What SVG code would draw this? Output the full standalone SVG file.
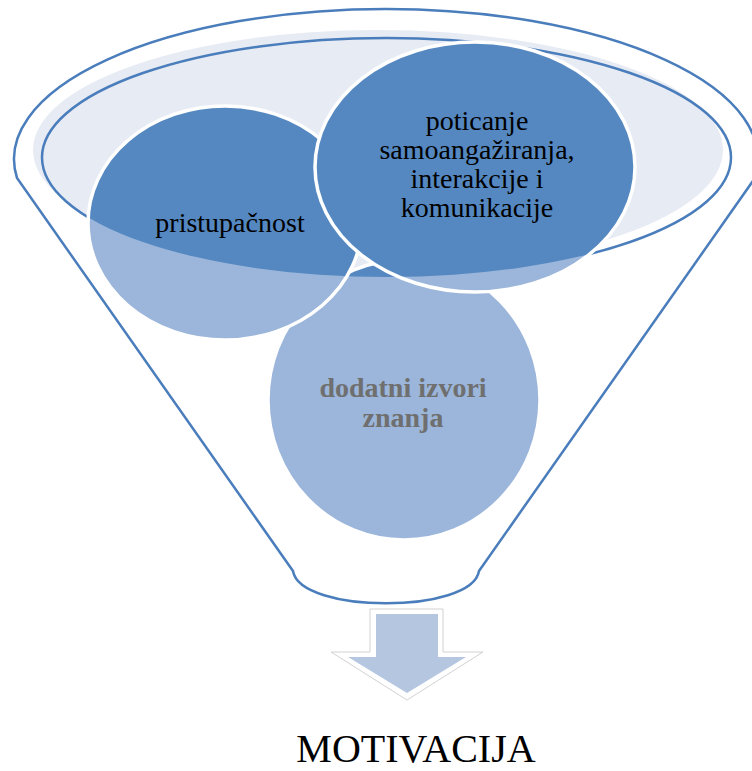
<svg xmlns="http://www.w3.org/2000/svg" width="752" height="771" viewBox="0 0 752 771">
<style>
.line{fill:none;stroke:#4a7dbb;stroke-width:2.5}
.lt{fill:#9bb6da}
.dk{fill:#5588c1}
.rim{fill:none;stroke:#ffffff;stroke-width:3.5}
</style>
<defs>
<clipPath id="inner"><ellipse cx="386.5" cy="157.5" rx="344.5" ry="119.5"/></clipPath>
</defs>
<rect width="752" height="771" fill="#ffffff"/>
<g id="funnel">
<ellipse cx="378" cy="150" rx="345" ry="120" fill="#e7ebf4"/>
<ellipse class="line" cx="386.5" cy="157.5" rx="344.5" ry="119.5"/>
<path class="line" d="M 17 178 A 372 150 0 1 1 755 178 L 479 571 C 472 614 300 614 293 571 Z"/>
</g>
<g id="node-dodatni">
<ellipse class="lt" cx="404" cy="400" rx="136" ry="140"/>
<ellipse class="dk" cx="404" cy="400" rx="136" ry="140" clip-path="url(#inner)"/>
<ellipse class="rim" cx="404" cy="400" rx="136" ry="140"/>
<g font-family="Liberation Serif, Times New Roman, serif" font-size="28" font-weight="bold" text-anchor="middle" fill="#6f6f6f">
<text x="403" y="397">dodatni izvori</text>
<text x="403" y="427">znanja</text>
</g>
</g>
<g id="node-pristupacnost">
<ellipse class="lt" cx="225" cy="223" rx="137" ry="117"/>
<ellipse class="dk" cx="225" cy="223" rx="137" ry="117" clip-path="url(#inner)"/>
<ellipse class="rim" cx="225" cy="223" rx="137" ry="117"/>
<text x="230" y="232" font-family="Liberation Serif, Times New Roman, serif" font-size="28" text-anchor="middle" fill="#000000">pristupačnost</text>
</g>
<g id="node-poticanje">
<ellipse class="lt" cx="475" cy="167" rx="160" ry="125"/>
<ellipse class="dk" cx="475" cy="167" rx="160" ry="125" clip-path="url(#inner)"/>
<ellipse class="rim" cx="475" cy="167" rx="160" ry="125"/>
<g font-family="Liberation Serif, Times New Roman, serif" font-size="28" text-anchor="middle" fill="#000000">
<text x="477" y="130">poticanje</text>
<text x="477" y="159">samoangažiranja,</text>
<text x="477" y="188">interakcije i</text>
<text x="477" y="217">komunikacije</text>
</g>
</g>
<g id="connectors">
<polygon points="370,609 443,609 443,652 483,652 407,700 331,652 370,652" fill="#ffffff" stroke="#d2d2d2" stroke-width="1"/>
<polygon points="376,614 438,614 438,657 466,657 407,693 348,657 376,657" fill="#b5c6e1"/>
</g>
<g id="node-motivacija">
<text x="416" y="762" font-family="Liberation Serif, Times New Roman, serif" font-size="40" text-anchor="middle" fill="#000000">MOTIVACIJA</text>
</g>
</svg>
